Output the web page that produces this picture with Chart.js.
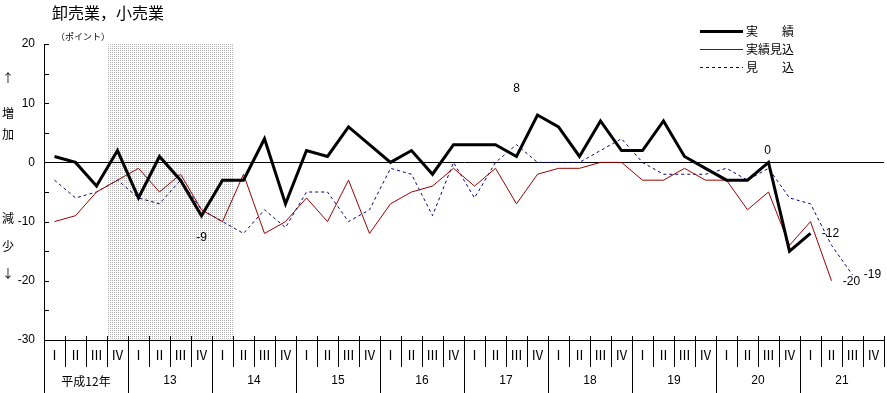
<!DOCTYPE html>
<html>
<head>
<meta charset="utf-8">
<script src="https://cdn.jsdelivr.net/npm/chart.js@4/dist/chart.umd.min.js"></script>
<style>
html,body{margin:0;padding:0;background:#fff;}
#wrap{width:887px;height:393px;}
</style>
</head>
<body>
<div id="wrap"><canvas id="c" width="887" height="393"></canvas></div>
<script>
// ---- data ----
const years = ['平成12年','13','14','15','16','17','18','19','20','21'];
const quarters = ['Ⅰ','Ⅱ','Ⅲ','Ⅳ'];
const categories = years.flatMap(y => quarters.map(q => y + ' ' + q));
const yTicks = [20, 10, 0, -10, -20, -30];

// 実績
const jisseki = [1,0,-4,2,-6,1,-3,-9,-3,-3,4,-7,2,1,6,3,0,2,-2,3,3,3,1,8,6,1,7,2,2,7,1,-1,-3,-3,0,-15,-12,null,null,null];
// 実績見込
const jissekiMikomi = [-10,-9,-5,-3,-1,-5,-2,-8,-10,-2,-12,-10,-6,-10,-3,-12,-7,-5,-4,-1,-4,-1,-7,-2,-1,-1,0,0,-3,-3,-1,-3,-3,-8,-5,-14,-10,-20,null,null];
// 見込
const mikomi = [-3,-6,-5,-3,-6,-7,-3,-8,-10,-12,-8,-11,-5,-5,-10,-8,-1,-2,-9,0,-6,0,3,0,0,0,2,4,0,-2,-2,-2,-1,-3,-1,-6,-7,-14,-19,null];

const seriesNames = ['実　　績','実績見込','見　　込'];
const shadedFrom = 3, shadedTo = 8; // category indexes (平成12年Ⅳ – 14年Ⅰ)

// value labels: [series index, category index, text]
const valueLabels = [[0,23,'8'],[0,7,'-9'],[0,34,'0'],[0,36,'-12'],[1,37,'-20'],[2,38,'-19']];

// ---- styles ----
const labelOffsets = [[-21,-26],[0,22],[-1,-12],[20,0],[20,1],[20,0]];
const FONT = '"Noto Sans CJK JP", "DejaVu Sans", sans-serif';
const NUMFONT = '"Liberation Sans", "DejaVu Sans", sans-serif';
const colors = ['#000000','#990000','#000080'];

const datasets = [
  {label: seriesNames[0], data: jisseki, borderColor: colors[0], borderWidth: 3},
  {label: seriesNames[1], data: jissekiMikomi, borderColor: colors[1], borderWidth: 1},
  {label: seriesNames[2], data: mikomi, borderColor: colors[2], borderWidth: 1, borderDash: [3,3]}
].map(d => Object.assign({pointRadius:0, tension:0, fill:false, spanGaps:false}, d));

const deco = {
  id: 'deco',
  beforeDraw(chart){
    const {ctx, chartArea:a, scales:{x}} = chart;
    const w = (a.right - a.left) / categories.length;
    const pc = document.createElement('canvas'); pc.width = 2; pc.height = 2;
    const p = pc.getContext('2d');
    p.fillStyle = '#fff'; p.fillRect(0,0,2,2);
    p.fillStyle = '#b4b4b4'; p.fillRect(0,0,1,1);
    const x0 = x.getPixelForValue(shadedFrom) - w/2;
    const x1 = x.getPixelForValue(shadedTo) + w/2;
    ctx.save();
    ctx.fillStyle = ctx.createPattern(pc, 'repeat');
    ctx.fillRect(x0, a.top, x1 - x0, a.bottom - a.top);
    ctx.restore();
  },
  afterDraw(chart){
    const {ctx, chartArea:a, scales:{x, y}} = chart;
    const w = (a.right - a.left) / categories.length;
    ctx.save();
    ctx.strokeStyle = '#000'; ctx.lineWidth = 1;
    // y inner ticks
    y.ticks.forEach(t => {
      const py = Math.round(y.getPixelForValue(t.value)) + 0.5;
      ctx.beginPath(); ctx.moveTo(a.left, py); ctx.lineTo(a.left + 5, py); ctx.stroke();
    });
    // left axis extension downward
    const ax = Math.round(a.left) + 0.5;
    ctx.beginPath(); ctx.moveTo(ax, a.bottom); ctx.lineTo(ax, 393); ctx.stroke();
    // category separators
    for (let i = 1; i <= categories.length; i++) {
      const px = Math.round(x.getPixelForValue(i - 1) + w/2) + 0.5;
      const yearEnd = i % 4 === 0 && i < categories.length;
      ctx.beginPath(); ctx.moveTo(px, a.bottom - 4); ctx.lineTo(px, yearEnd ? 393 : a.bottom + 27); ctx.stroke();
    }
    // quarter labels
    ctx.fillStyle = '#000';
    ctx.textAlign = 'center'; ctx.textBaseline = 'middle';
    ctx.font = '13px ' + FONT;
    categories.forEach((c, i) => {
      ctx.fillText(quarters[i % 4], x.getPixelForValue(i), a.bottom + 15);
    });
    // year labels
    years.forEach((yl, k) => {
      const cx = (x.getPixelForValue(k*4) + x.getPixelForValue(k*4 + 3)) / 2;
      ctx.font = (k === 0 ? '12px ' + FONT : '12px ' + NUMFONT);
      ctx.fillText(yl, cx, a.bottom + 41);
    });
    // value labels
    ctx.font = '12px ' + NUMFONT;
    const series = [jisseki, jissekiMikomi, mikomi];
    valueLabels.forEach((v, k) => {
      const [s, i, txt] = v;
      const px = x.getPixelForValue(i) + labelOffsets[k][0];
      const py = y.getPixelForValue(series[s][i]) + labelOffsets[k][1];
      ctx.fillText(txt, px, py);
    });
    // title
    ctx.textAlign = 'left';
    ctx.font = '16px ' + FONT;
    ctx.fillText('卸売業，小売業', 52, 13);
    ctx.font = '9px ' + FONT;
    ctx.fillText('（ポイント）', 56, 37);
    // side labels
    ctx.textAlign = 'center';
    ctx.font = '12px ' + FONT;
    [['↑',78],['増',113],['加',134],['減',218],['少',246],['↓',273]].forEach(([t, py]) => ctx.fillText(t, 8, py));
    // legend
    ctx.textAlign = 'left';
    datasets.forEach((d, k) => {
      const ly = 31 + k*18;
      ctx.save();
      ctx.strokeStyle = d.borderColor; ctx.lineWidth = d.borderWidth;
      ctx.setLineDash(d.borderDash || []);
      ctx.beginPath(); ctx.moveTo(700, ly + (d.borderWidth % 2 ? 0.5 : 0)); ctx.lineTo(743, ly + (d.borderWidth % 2 ? 0.5 : 0)); ctx.stroke();
      ctx.restore();
      ctx.font = '12px ' + FONT;
      ctx.fillText(d.label, 746, ly);
    });
    ctx.restore();
  }
};

new Chart(document.getElementById('c'), {
  type: 'line',
  data: { labels: categories, datasets },
  options: {
    responsive: false,
    devicePixelRatio: 1,
    animation: false,
    layout: { padding: { top: 44, right: 3, left: 0, bottom: 0 } },
    plugins: { legend: { display: false }, tooltip: { enabled: false } },
    scales: {
      x: {
        type: 'category', offset: true,
        ticks: { display: false },
        grid: { display: false, drawTicks: false },
        border: { display: true, color: '#000', width: 1 },
        afterFit: s => { s.height = 53; }
      },
      y: {
        min: -30, max: 20,
        ticks: {
          stepSize: 5, padding: 9, color: '#000',
          font: { size: 12, family: NUMFONT },
          callback: v => yTicks.includes(v) ? String(v) : ''
        },
        grid: { drawTicks: false, color: c => (c.tick && c.tick.value === 0) ? '#000' : 'rgba(0,0,0,0)', lineWidth: 1 },
        border: { display: true, color: '#000', width: 1 },
        afterFit: s => { s.width = 44; }
      }
    }
  },
  plugins: [deco]
});
</script>
</body>
</html>
